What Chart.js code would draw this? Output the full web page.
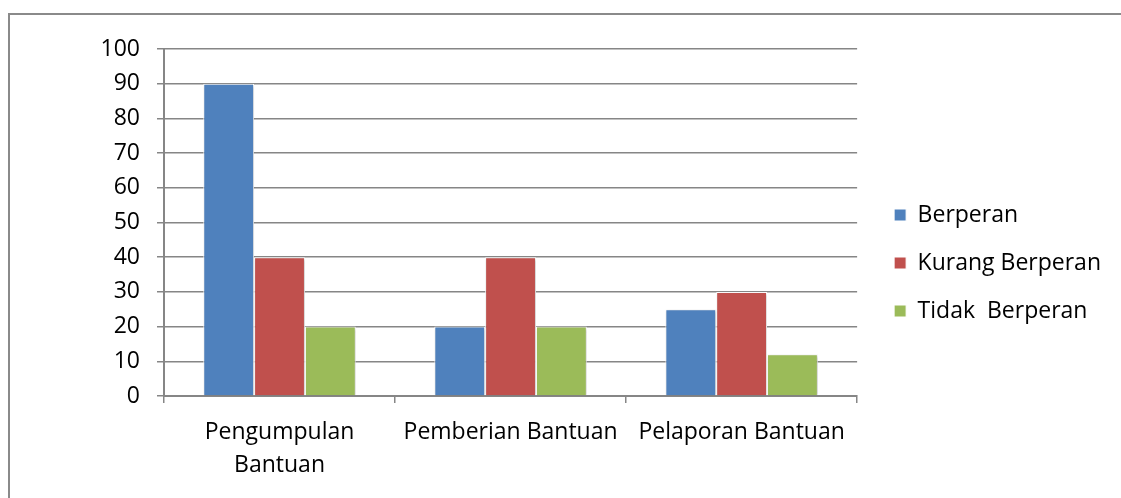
<!DOCTYPE html>
<html>
<head>
<meta charset="utf-8">
<title>Peran</title>
<script src="https://cdn.jsdelivr.net/npm/chart.js@4.4.1/dist/chart.umd.min.js"></script>
<style>
  html, body { margin: 0; padding: 0; background: #fff; }
  #wrap { position: relative; width: 1121px; height: 498px; overflow: hidden; }
  #frame {
    position: absolute; left: 8px; top: 13px; width: 1200px; height: 600px;
    border-top: 2px solid #8a8a8a; border-left: 2px solid #8a8a8a;
  }
  #chart { position: absolute; left: 0; top: 0; }
</style>
</head>
<body>
<div id="wrap">
  <div id="frame"></div>
  <canvas id="chart" width="1121" height="498"></canvas>
</div>
<script>
// categories and series
const categories = [['Pengumpulan', 'Bantuan'], 'Pemberian Bantuan', 'Pelaporan Bantuan'];
const berperan = [90, 20, 25];
const kurangBerperan = [40, 40, 30];
const tidakBerperan = [20, 20, 12];
const seriesNames = ['Berperan', 'Kurang Berperan', 'Tidak  Berperan'];
const seriesColors = ['#4F81BD', '#C0504D', '#9BBB59'];

const FONT = '"Open Sans", sans-serif';
const GRID = '#868686';

// soft shadow behind bars, like the office chart style
const barShadow = {
  id: 'barShadow',
  beforeDatasetsDraw(chart) {
    const ctx = chart.ctx;
    ctx.save();
    ctx.shadowColor = 'rgba(0,0,0,0.25)';
    ctx.shadowBlur = 3;
    ctx.shadowOffsetX = 1;
    ctx.shadowOffsetY = 1;
  },
  afterDatasetsDraw(chart) {
    chart.ctx.restore();
  },
};

// leave a small gap between the plot and the legend
const legendGap = {
  id: 'legendGap',
  afterLayout(chart) {
    chart.legend.left += 12;
    chart.legend.right += 12;
  },
};

const data = [berperan, kurangBerperan, tidakBerperan];

new Chart(document.getElementById('chart'), {
  type: 'bar',
  data: {
    labels: categories,
    datasets: data.map((d, i) => ({
      label: seriesNames[i],
      data: d,
      backgroundColor: seriesColors[i],
      borderColor: '#ffffff',
      borderWidth: 1,
      barPercentage: 1,
      categoryPercentage: 0.66,
    })),
  },
  options: {
    responsive: false,
    animation: false,
    devicePixelRatio: 1,
    layout: { padding: { left: 100, top: 49, right: 22, bottom: 21 } },
    plugins: {
      tooltip: { enabled: false },
      legend: {
        position: 'right',
        labels: {
          boxWidth: 12,
          boxHeight: 12,
          padding: 25,
          color: '#000',
          font: { family: FONT, size: 23 },
        },
      },
    },
    scales: {
      x: {
        grid: { drawOnChartArea: false, drawTicks: true, tickLength: 7, color: GRID, lineWidth: 1.5, offset: true },
        border: { color: GRID, width: 2 },
        ticks: { color: '#000', padding: 13, maxRotation: 0, font: { family: FONT, size: 23, lineHeight: 1.43 } },
        afterFit: s => { s.height = 81; },
      },
      y: {
        min: 0,
        max: 100,
        grid: { color: GRID, tickLength: 7, lineWidth: 1.5 },
        border: { color: GRID, width: 2 },
        ticks: { stepSize: 10, color: '#000', padding: 17, font: { family: FONT, size: 23 } },
        afterFit: s => { s.width = 64; },
      },
    },
  },
  plugins: [barShadow, legendGap],
});
</script>
</body>
</html>
